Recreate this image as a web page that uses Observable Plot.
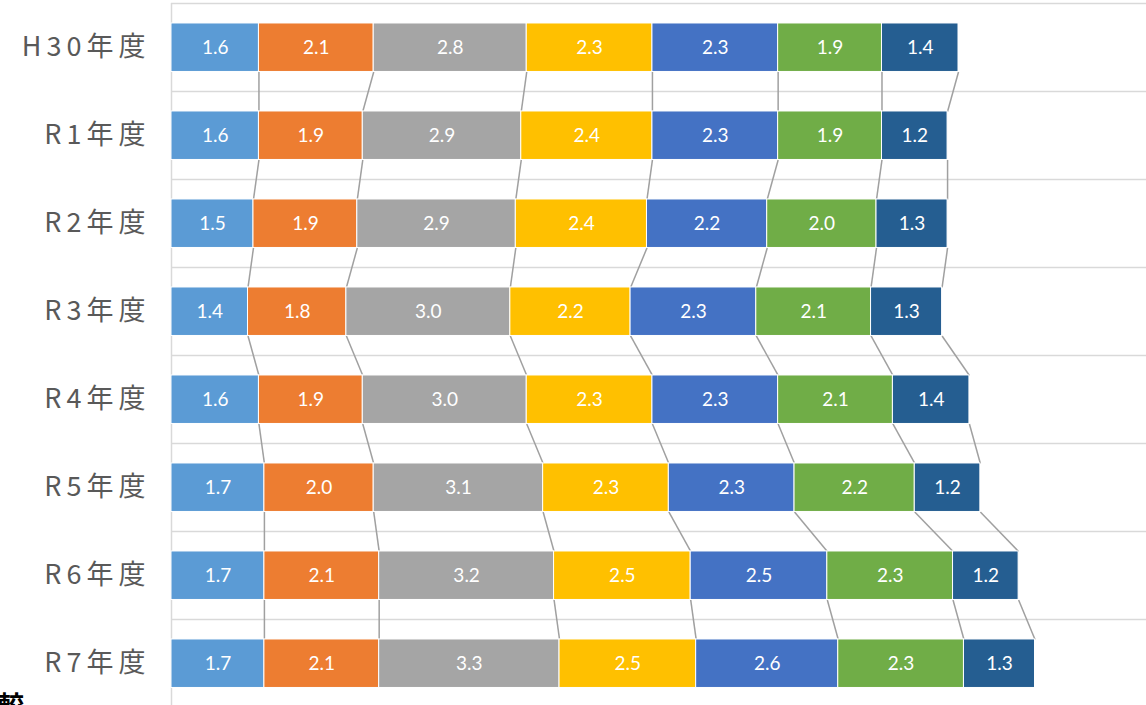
<!DOCTYPE html>
<html>
<head>
<meta charset="utf-8">
<script src="https://cdn.jsdelivr.net/npm/d3@7"></script>
<script src="https://cdn.jsdelivr.net/npm/@observablehq/plot@0.6"></script>
<style>
  html, body { margin: 0; padding: 0; background: #fff; overflow: hidden; }
  #wrap { position: relative; width: 1146px; height: 705px; }
  #cut { position: absolute; left: -2px; top: 691px; font: bold 26px "Noto Sans CJK JP"; color: #000; line-height: 1; }
  .ylab text { letter-spacing: 5px; }
</style>
</head>
<body>
<div id="wrap">
  <div id="chart"></div>
  <div id="cut">較</div>
</div>
<script>
const years = ["H30年度", "R1年度", "R2年度", "R3年度", "R4年度", "R5年度", "R6年度", "R7年度"];
const seriesNames = ["系列1", "系列2", "系列3", "系列4", "系列5", "系列6", "系列7"];
const colors = ["#5B9BD5", "#ED7D31", "#A5A5A5", "#FFC000", "#4472C4", "#70AD47", "#255E91"];
const vH30 = [1.6, 2.1, 2.8, 2.3, 2.3, 1.9, 1.4];
const vR1  = [1.6, 1.9, 2.9, 2.4, 2.3, 1.9, 1.2];
const vR2  = [1.5, 1.9, 2.9, 2.4, 2.2, 2.0, 1.3];
const vR3  = [1.4, 1.8, 3.0, 2.2, 2.3, 2.1, 1.3];
const vR4  = [1.6, 1.9, 3.0, 2.3, 2.3, 2.1, 1.4];
const vR5  = [1.7, 2.0, 3.1, 2.3, 2.3, 2.2, 1.2];
const vR6  = [1.7, 2.1, 3.2, 2.5, 2.5, 2.3, 1.2];
const vR7  = [1.7, 2.1, 3.3, 2.5, 2.6, 2.3, 1.3];
const rows = [vH30, vR1, vR2, vR3, vR4, vR5, vR6, vR7];

const gapTop = 0.227, gapBottom = 0.222; // bar thickness within each row band

const segs = [];
rows.forEach((vals, i) => {
  let c = 0;
  vals.forEach((v, k) => {
    segs.push({row: i, k, series: seriesNames[k], x1: c, x2: c + v, v});
    c += v;
  });
});
const links = [];
for (let i = 0; i < rows.length - 1; i++) {
  let a = 0, b = 0;
  for (let k = 0; k < 7; k++) {
    a += rows[i][k]; b += rows[i + 1][k];
    links.push({x1: a, y1: i + 1 - gapBottom, x2: b, y2: i + 1 + gapTop});
  }
}

const chart = Plot.plot({
  width: 1146,
  height: 705,
  marginLeft: 171,
  marginRight: 0,
  marginTop: 3,
  marginBottom: 0,
  x: {domain: [0, 17.84], range: [171, 1146], axis: null},
  y: {domain: [0, 8], range: [3, 707], axis: null},
  color: {domain: seriesNames, range: colors},
  style: {fontFamily: "Lato, sans-serif", background: "#fff"},
  marks: [
    Plot.ruleY(d3.range(0, 9), {stroke: "#d9d9d9", strokeWidth: 1.5}),
    Plot.ruleX([0], {y1: 0, y2: 8, stroke: "#d9d9d9", strokeWidth: 1.5}),
    Plot.link(links, {x1: "x1", y1: "y1", x2: "x2", y2: "y2", stroke: "#a0a0a0", strokeWidth: 1.5}),
    Plot.rectX(segs, {x1: "x1", x2: "x2", y1: d => d.row + gapTop, y2: d => d.row + 1 - gapBottom, fill: "series", stroke: "#fff", strokeWidth: 1}),
    Plot.text(segs, {x: d => (d.x1 + d.x2) / 2, y: d => d.row + 0.5, text: d => d.v.toFixed(1), fill: "#fff", fontSize: 19}),
    Plot.axisY(d3.range(0, 8).map(i => i + 0.5), {
      anchor: "left", tickSize: 0, tickPadding: 21,
      tickFormat: d => years[Math.floor(d)],
      fontSize: 27, fill: "#595959", fontFamily: "Noto Sans CJK JP", label: null,
      className: "ylab"
    })
  ]
});
document.getElementById("chart").appendChild(chart);
</script>
</body>
</html>
